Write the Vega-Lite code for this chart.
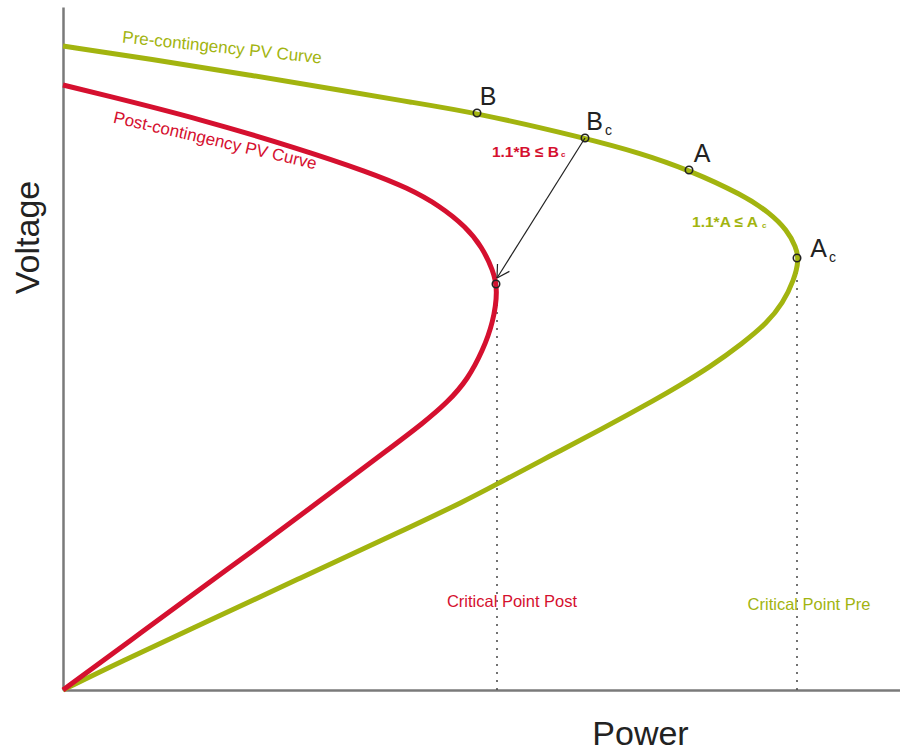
{
  "$schema": "https://vega.github.io/schema/vega-lite/v6.json",
  "width": 837,
  "height": 683,
  "autosize": {"type": "none"},
  "padding": {"left": 63, "top": 7, "right": 0, "bottom": 60},
  "background": "white",
  "config": {"view": {"stroke": null}, "font": "Liberation Sans"},
  "datasets": {
    "curves": [
      {"curve": "pre", "i": 1, "P": 0, "V": 644},
      {"curve": "pre", "i": 2, "P": 87, "V": 631},
      {"curve": "pre", "i": 3, "P": 187, "V": 615},
      {"curve": "pre", "i": 4, "P": 287, "V": 598},
      {"curve": "pre", "i": 5, "P": 347, "V": 588},
      {"curve": "pre", "i": 6, "P": 414, "V": 577},
      {"curve": "pre", "i": 7, "P": 522, "V": 552},
      {"curve": "pre", "i": 8, "P": 577, "V": 537},
      {"curve": "pre", "i": 9, "P": 626, "V": 520},
      {"curve": "pre", "i": 10, "P": 680, "V": 495},
      {"curve": "pre", "i": 11, "P": 707, "V": 477},
      {"curve": "pre", "i": 12, "P": 724, "V": 460},
      {"curve": "pre", "i": 13, "P": 733, "V": 443},
      {"curve": "pre", "i": 14, "P": 736, "V": 430},
      {"curve": "pre", "i": 15, "P": 731, "V": 410},
      {"curve": "pre", "i": 16, "P": 720, "V": 387},
      {"curve": "pre", "i": 17, "P": 704, "V": 367},
      {"curve": "pre", "i": 18, "P": 680, "V": 347},
      {"curve": "pre", "i": 19, "P": 647, "V": 323},
      {"curve": "pre", "i": 20, "P": 614, "V": 303},
      {"curve": "pre", "i": 21, "P": 597, "V": 293},
      {"curve": "pre", "i": 22, "P": 537, "V": 260},
      {"curve": "pre", "i": 23, "P": 487, "V": 234},
      {"curve": "pre", "i": 24, "P": 434, "V": 206},
      {"curve": "pre", "i": 25, "P": 404, "V": 190},
      {"curve": "pre", "i": 26, "P": 337, "V": 158},
      {"curve": "pre", "i": 27, "P": 237, "V": 112},
      {"curve": "pre", "i": 28, "P": 137, "V": 65},
      {"curve": "pre", "i": 29, "P": 57, "V": 28},
      {"curve": "pre", "i": 30, "P": 0, "V": 0},
      {"curve": "post", "i": 1, "P": 0, "V": 605},
      {"curve": "post", "i": 2, "P": 37, "V": 596},
      {"curve": "post", "i": 3, "P": 137, "V": 571},
      {"curve": "post", "i": 4, "P": 237, "V": 541},
      {"curve": "post", "i": 5, "P": 305, "V": 518},
      {"curve": "post", "i": 6, "P": 345, "V": 502},
      {"curve": "post", "i": 7, "P": 377, "V": 484},
      {"curve": "post", "i": 8, "P": 403, "V": 463},
      {"curve": "post", "i": 9, "P": 419, "V": 443},
      {"curve": "post", "i": 10, "P": 430, "V": 420},
      {"curve": "post", "i": 11, "P": 435, "V": 400},
      {"curve": "post", "i": 12, "P": 430, "V": 367},
      {"curve": "post", "i": 13, "P": 420, "V": 340},
      {"curve": "post", "i": 14, "P": 405, "V": 311},
      {"curve": "post", "i": 15, "P": 385, "V": 288},
      {"curve": "post", "i": 16, "P": 359, "V": 266},
      {"curve": "post", "i": 17, "P": 330, "V": 244},
      {"curve": "post", "i": 18, "P": 254, "V": 187},
      {"curve": "post", "i": 19, "P": 187, "V": 137},
      {"curve": "post", "i": 20, "P": 137, "V": 101},
      {"curve": "post", "i": 21, "P": 67, "V": 49},
      {"curve": "post", "i": 22, "P": 0, "V": 0}
    ],
    "critical": [
      {"P": 434, "V0": 0, "V1": 402},
      {"P": 734, "V0": 0, "V1": 428}
    ],
    "arrow": [
      {"P": 522, "V": 552, "P2": 434, "V2": 412},
      {"P": 434, "V": 412, "P2": 446.4, "V2": 418.6},
      {"P": 434, "V": 412, "P2": 434.5, "V2": 426}
    ],
    "markers": [
      {"name": "B", "P": 414, "V": 577},
      {"name": "Bc", "P": 522, "V": 552},
      {"name": "A", "P": 626, "V": 520},
      {"name": "Ac", "P": 734, "V": 432},
      {"name": "Critical post", "P": 433, "V": 406}
    ],
    "bigCenter": [
      {"label": "B", "P": 425, "V": 585},
      {"label": "A", "P": 639, "V": 528}
    ],
    "bigRight": [
      {"label": "B", "P": 540, "V": 560},
      {"label": "A", "P": 764, "V": 433}
    ],
    "subs": [
      {"label": "c", "P": 542, "V": 555},
      {"label": "c", "P": 766, "V": 428}
    ]
  },
  "encoding": {
    "x": {"type": "quantitative", "scale": {"domain": [0, 837], "nice": false, "zero": false}},
    "y": {"type": "quantitative", "scale": {"domain": [0, 683], "nice": false, "zero": false}}
  },
  "layer": [
    {
      "data": {"name": "critical"},
      "mark": {"type": "rule", "color": "#444444", "strokeWidth": 1.5, "strokeDash": [2, 6]},
      "encoding": {
        "x": {"field": "P", "type": "quantitative",
          "axis": {"title": "Power", "labels": false, "ticks": false, "grid": false, "domainColor": "#7a7a7a", "domainWidth": 2.5, "titleFontSize": 34, "titleFontWeight": "normal", "titleColor": "#222222", "titleBaseline": "alphabetic", "titleAlign": "center", "titleX": 577, "titleY": 54, "titleFont": "Liberation Sans"}},
        "y": {"field": "V0", "type": "quantitative",
          "axis": {"title": "Voltage", "labels": false, "ticks": false, "grid": false, "domainColor": "#7a7a7a", "domainWidth": 2.5, "titleFontSize": 34, "titleFontWeight": "normal", "titleColor": "#222222", "titleBaseline": "alphabetic", "titleAlign": "center", "titleAngle": -90, "titleX": -25, "titleY": 230, "titleFont": "Liberation Sans"}},
        "y2": {"field": "V1"}
      }
    },
    {
      "data": {"name": "curves"},
      "transform": [{"filter": "datum.curve === 'pre'"}],
      "mark": {"type": "line", "color": "#a2b40f", "strokeWidth": 5, "interpolate": "basis"},
      "encoding": {
        "x": {"field": "P", "type": "quantitative"},
        "y": {"field": "V", "type": "quantitative"},
        "order": {"field": "i", "type": "quantitative"}
      }
    },
    {
      "data": {"name": "curves"},
      "transform": [{"filter": "datum.curve === 'post'"}],
      "mark": {"type": "line", "color": "#d5102f", "strokeWidth": 5, "interpolate": "basis"},
      "encoding": {
        "x": {"field": "P", "type": "quantitative"},
        "y": {"field": "V", "type": "quantitative"},
        "order": {"field": "i", "type": "quantitative"}
      }
    },
    {
      "data": {"name": "arrow"},
      "mark": {"type": "rule", "color": "#222222", "strokeWidth": 1.2},
      "encoding": {
        "x": {"field": "P", "type": "quantitative"},
        "y": {"field": "V", "type": "quantitative"},
        "x2": {"field": "P2"},
        "y2": {"field": "V2"}
      }
    },
    {
      "data": {"name": "markers"},
      "mark": {"type": "point", "shape": "circle", "filled": false, "stroke": "#222222", "strokeWidth": 1.6, "size": 55, "opacity": 1},
      "encoding": {
        "x": {"field": "P", "type": "quantitative"},
        "y": {"field": "V", "type": "quantitative"}
      }
    },
    {
      "data": {"name": "bigCenter"},
      "mark": {"type": "text", "fontSize": 25, "color": "#222222", "align": "center", "baseline": "alphabetic", "font": "Liberation Sans"},
      "encoding": {
        "x": {"field": "P", "type": "quantitative"},
        "y": {"field": "V", "type": "quantitative"},
        "text": {"field": "label"}
      }
    },
    {
      "data": {"name": "bigRight"},
      "mark": {"type": "text", "fontSize": 25, "color": "#222222", "align": "right", "baseline": "alphabetic", "font": "Liberation Sans"},
      "encoding": {
        "x": {"field": "P", "type": "quantitative"},
        "y": {"field": "V", "type": "quantitative"},
        "text": {"field": "label"}
      }
    },
    {
      "data": {"name": "subs"},
      "mark": {"type": "text", "fontSize": 14, "color": "#222222", "align": "left", "baseline": "alphabetic", "font": "Liberation Sans"},
      "encoding": {
        "x": {"field": "P", "type": "quantitative"},
        "y": {"field": "V", "type": "quantitative"},
        "text": {"field": "label"}
      }
    },
    {
      "data": {"values": [{"label": "1.1*B ≤ B", "P": 496, "V": 533}]},
      "mark": {"type": "text", "fontSize": 15.5, "fontWeight": "bold", "color": "#d5102f", "align": "right", "baseline": "alphabetic", "font": "Liberation Sans"},
      "encoding": {
        "x": {"field": "P", "type": "quantitative"},
        "y": {"field": "V", "type": "quantitative"},
        "text": {"field": "label"}
      }
    },
    {
      "data": {"values": [{"label": "c", "P": 498, "V": 533}]},
      "mark": {"type": "text", "fontSize": 8, "fontWeight": "bold", "color": "#d5102f", "align": "left", "baseline": "alphabetic", "font": "Liberation Sans"},
      "encoding": {
        "x": {"field": "P", "type": "quantitative"},
        "y": {"field": "V", "type": "quantitative"},
        "text": {"field": "label"}
      }
    },
    {
      "data": {"values": [{"label": "1.1*A ≤ A", "P": 695, "V": 463}]},
      "mark": {"type": "text", "fontSize": 15.5, "fontWeight": "bold", "color": "#a2b40f", "align": "right", "baseline": "alphabetic", "font": "Liberation Sans"},
      "encoding": {
        "x": {"field": "P", "type": "quantitative"},
        "y": {"field": "V", "type": "quantitative"},
        "text": {"field": "label"}
      }
    },
    {
      "data": {"values": [{"label": "c", "P": 699, "V": 462}]},
      "mark": {"type": "text", "fontSize": 8, "fontWeight": "bold", "color": "#a2b40f", "align": "left", "baseline": "alphabetic", "font": "Liberation Sans"},
      "encoding": {
        "x": {"field": "P", "type": "quantitative"},
        "y": {"field": "V", "type": "quantitative"},
        "text": {"field": "label"}
      }
    },
    {
      "data": {"values": [{"label": "Critical Point Post", "P": 449, "V": 83}]},
      "mark": {"type": "text", "fontSize": 16.5, "color": "#d5102f", "align": "center", "baseline": "alphabetic", "font": "Liberation Sans"},
      "encoding": {
        "x": {"field": "P", "type": "quantitative"},
        "y": {"field": "V", "type": "quantitative"},
        "text": {"field": "label"}
      }
    },
    {
      "data": {"values": [{"label": "Critical Point Pre", "P": 746, "V": 80}]},
      "mark": {"type": "text", "fontSize": 16.5, "color": "#a2b40f", "align": "center", "baseline": "alphabetic", "font": "Liberation Sans"},
      "encoding": {
        "x": {"field": "P", "type": "quantitative"},
        "y": {"field": "V", "type": "quantitative"},
        "text": {"field": "label"}
      }
    },
    {
      "data": {"values": [{"label": "Pre-contingency PV Curve", "P": 159, "V": 642}]},
      "mark": {"type": "text", "fontSize": 17, "color": "#a2b40f", "align": "center", "baseline": "middle", "angle": 6, "font": "Liberation Sans"},
      "encoding": {
        "x": {"field": "P", "type": "quantitative"},
        "y": {"field": "V", "type": "quantitative"},
        "text": {"field": "label"}
      }
    },
    {
      "data": {"values": [{"label": "Post-contingency PV Curve", "P": 152, "V": 549}]},
      "mark": {"type": "text", "fontSize": 17, "color": "#d5102f", "align": "center", "baseline": "middle", "angle": 13, "font": "Liberation Sans"},
      "encoding": {
        "x": {"field": "P", "type": "quantitative"},
        "y": {"field": "V", "type": "quantitative"},
        "text": {"field": "label"}
      }
    }
  ]
}
